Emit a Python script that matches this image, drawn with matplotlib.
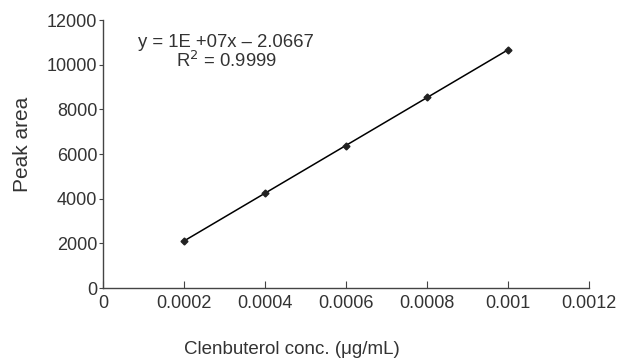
import matplotlib
matplotlib.use("Agg")
import matplotlib.pyplot as plt
import numpy as np

conc = [0.0002, 0.0004, 0.0006, 0.0008, 0.001]
peak_area = [2105, 4255, 6365, 8550, 10660]
x_ticks = [0, 0.0002, 0.0004, 0.0006, 0.0008, 0.001, 0.0012]
x_tick_labels = ["0", "0.0002", "0.0004", "0.0006", "0.0008", "0.001", "0.0012"]
y_ticks = [0, 2000, 4000, 6000, 8000, 10000, 12000]

plt.rcParams['font.family'] = ['Liberation Sans', 'DejaVu Sans']
tc = '#333333'

fig = plt.figure(figsize=(6.22, 3.58), dpi=100)
ax = fig.add_axes([0.1656, 0.1955, 0.7814, 0.7485])

coef = np.polyfit(conc, peak_area, 1)
xf = np.array([conc[0], conc[-1]])
ax.plot(xf, np.polyval(coef, xf), color='black', lw=1.1)
ax.plot(conc, peak_area, linestyle='none', marker='D', markersize=3.5, color='#222222')

ax.set_xlim(0, 0.0012)
ax.set_ylim(0, 12000)
ax.set_xticks(x_ticks)
ax.set_xticklabels(x_tick_labels)
ax.set_yticks(y_ticks)
for s in ['top', 'right']:
    ax.spines[s].set_visible(False)
for s in ['left', 'bottom']:
    ax.spines[s].set_color('#444444')
    ax.spines[s].set_linewidth(1.0)
ax.tick_params(axis='x', direction='in', length=5, colors='#444444', labelcolor=tc, labelsize=13, pad=5)
ax.tick_params(axis='y', direction='out', length=3, colors='#444444', labelcolor=tc, labelsize=13, pad=1)

ax.set_xlabel('Clenbuterol conc. (\u03bcg/mL)', fontsize=13.5, color=tc)
ax.xaxis.label.set_va('center')
ax.xaxis.set_label_coords(0.389, -0.228)
ax.set_ylabel('Peak area', fontsize=15, color=tc)
ax.yaxis.label.set_va('center')
ax.yaxis.set_label_coords(-0.165, 0.535)

ax.text(0.000304, 11000, 'y = 1E +07x \u2013 2.0667', fontsize=13.3, color=tc, ha='center', va='center')
ax.text(0.000304, 10180, 'R$^2$ = 0.9999', fontsize=13.3, color=tc, ha='center', va='center')

fig.savefig('out.png', dpi=100)
